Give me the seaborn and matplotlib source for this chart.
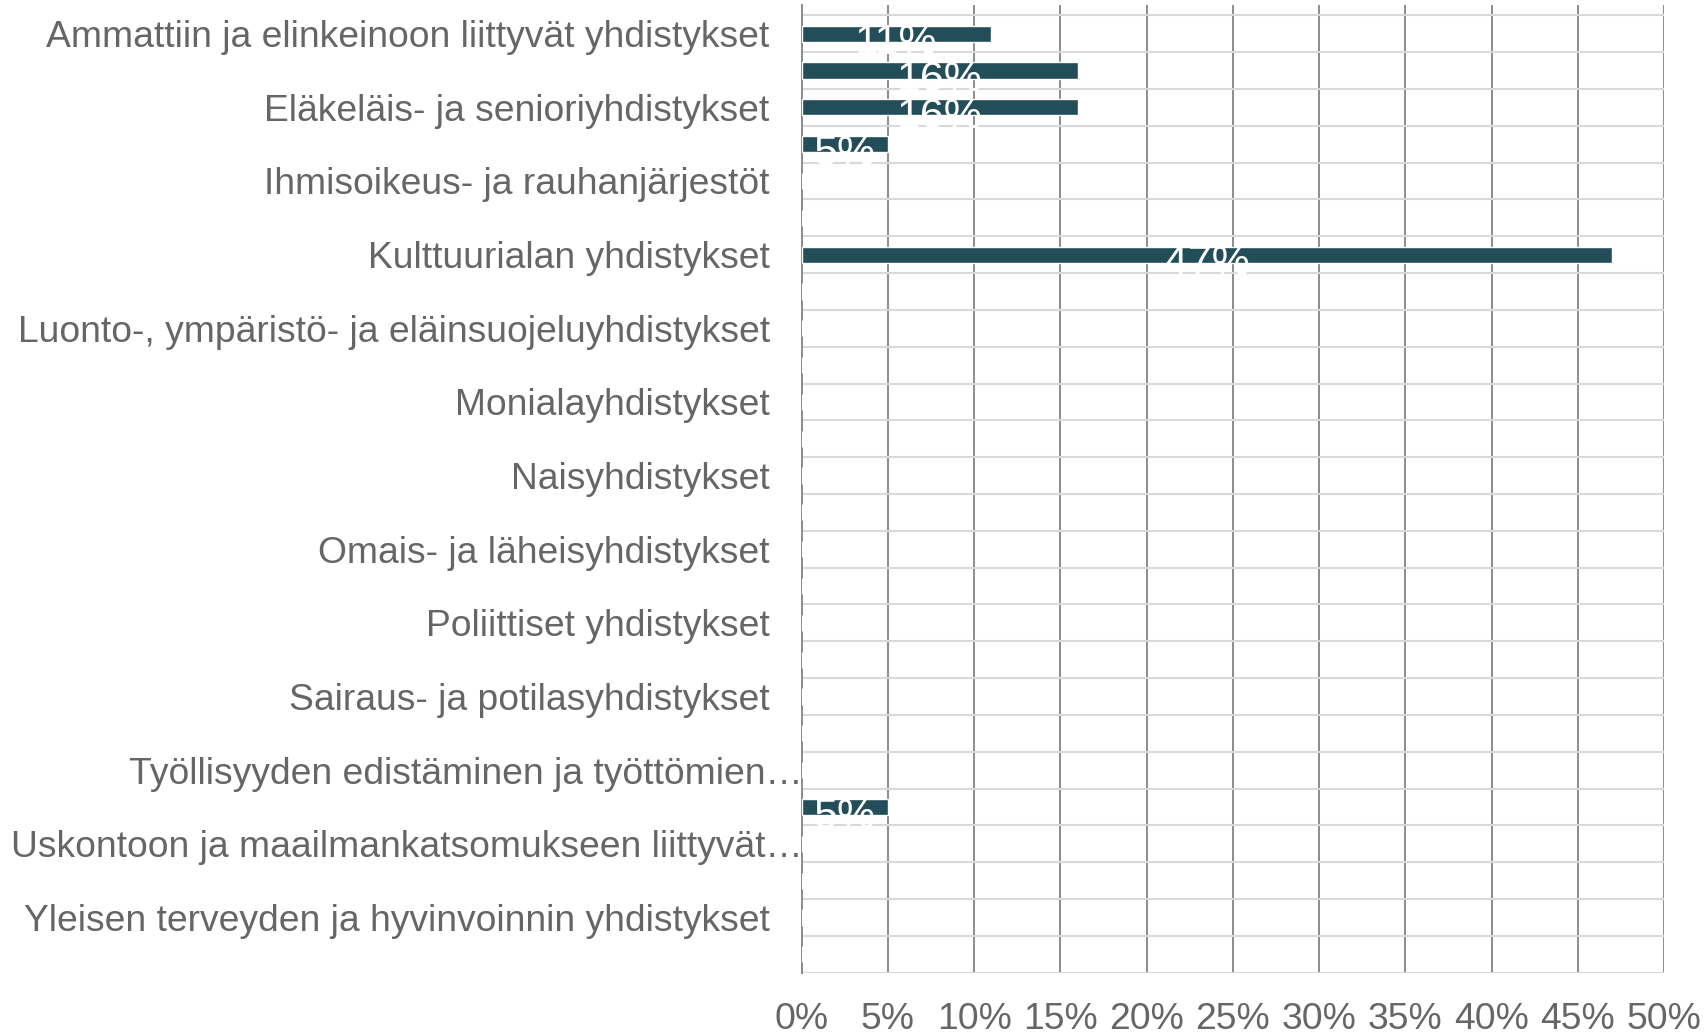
import numpy as np
import pandas as pd
import matplotlib
matplotlib.use("Agg")
import matplotlib.pyplot as plt
import seaborn as sns

# categories (every second one gets a visible label, like in the original)
categories = [
    "Ammattiin ja elinkeinoon liittyvät yhdistykset",
    "Asukas- ja kaupunginosayhdistykset",
    "Eläkeläis- ja senioriyhdistykset",
    "Harrastusyhdistykset",
    "Ihmisoikeus- ja rauhanjärjestöt",
    "Kansainvälisyysjärjestöt",
    "Kulttuurialan yhdistykset",
    "Lasten ja nuorten yhdistykset",
    "Luonto-, ympäristö- ja eläinsuojeluyhdistykset",
    "Maanpuolustusyhdistykset",
    "Monialayhdistykset",
    "Muut yhdistykset",
    "Naisyhdistykset",
    "Nuorisoyhdistykset",
    "Omais- ja läheisyhdistykset",
    "Opiskelijayhdistykset",
    "Poliittiset yhdistykset",
    "Päihde- ja raittiusyhdistykset",
    "Sairaus- ja potilasyhdistykset",
    "Sosiaalialan yhdistykset",
    "Työllisyyden edistäminen ja työttömien…",
    "Urheilu- ja liikuntaseurat",
    "Uskontoon ja maailmankatsomukseen liittyvät…",
    "Vammaisyhdistykset",
    "Yleisen terveyden ja hyvinvoinnin yhdistykset",
    "Ystävyysseurat",
]
shares = [11, 16, 16, 5, 0, 0, 47, 0, 0, 0, 0, 0, 0,
          0, 0, 0, 0, 0, 0, 0, 0, 5, 0, 0, 0, 0]
xticks = [0, 5, 10, 15, 20, 25, 30, 35, 40, 45, 50]

df = pd.DataFrame({"cat": categories, "share": shares})

sns.set_theme(style="white")
plt.rcParams["font.family"] = ["Liberation Sans", "DejaVu Sans"]

txt = "#666666"
bar_col = "#244d5a"

fig = plt.figure(figsize=(17.06, 10.35), dpi=100)
ax = fig.add_axes([0.4699, 0.0602, 0.5055, 0.935])

sns.barplot(data=df, x="share", y="cat", orient="h", color=bar_col,
            width=0.44, saturation=1, ax=ax, zorder=3)

# bar labels (white, on top of the grid)
for i, v in enumerate(shares):
    if v > 0:
        ax.text(v / 2, i + 0.26, f"{v}%", color="white", fontsize=31,
                ha="center", va="center", zorder=5)

ax.set_xlim(0, 50)
ax.set_ylim(len(categories) - 0.5, -0.78)
ax.set_xticks(xticks)
ax.set_xticklabels([f"{t}%" for t in xticks])

pos = np.arange(len(categories))
ax.set_yticks(pos[::2])
ax.set_yticklabels(categories[::2])
ax.set_yticks(np.arange(-0.5, len(categories), 1), minor=True)

ax.tick_params(axis="x", length=0, pad=21, labelsize=26.8, labelcolor=txt)
ax.tick_params(axis="y", which="major", length=0, pad=23, labelsize=26.8, labelcolor=txt)
ax.tick_params(axis="y", which="minor", length=8, width=1.4, color="#8c8c8c")

ax.grid(axis="y", which="minor", color="#d9d9d9", linewidth=1.5, zorder=0)
ax.grid(axis="x", which="major", color="#8c8c8c", linewidth=1.4, zorder=1)
ax.grid(axis="y", which="major", visible=False)

for s in ["top", "right", "bottom"]:
    ax.spines[s].set_visible(False)
ax.spines["left"].set_color("#8c8c8c")
ax.spines["left"].set_linewidth(1.4)

ax.set_xlabel("")
ax.set_ylabel("")

# truncated labels sit closer to the axis
for lab in ax.get_yticklabels():
    if lab.get_text().endswith("…"):
        lab.set_x(0.038)

fig.savefig("out.png", dpi=100)
